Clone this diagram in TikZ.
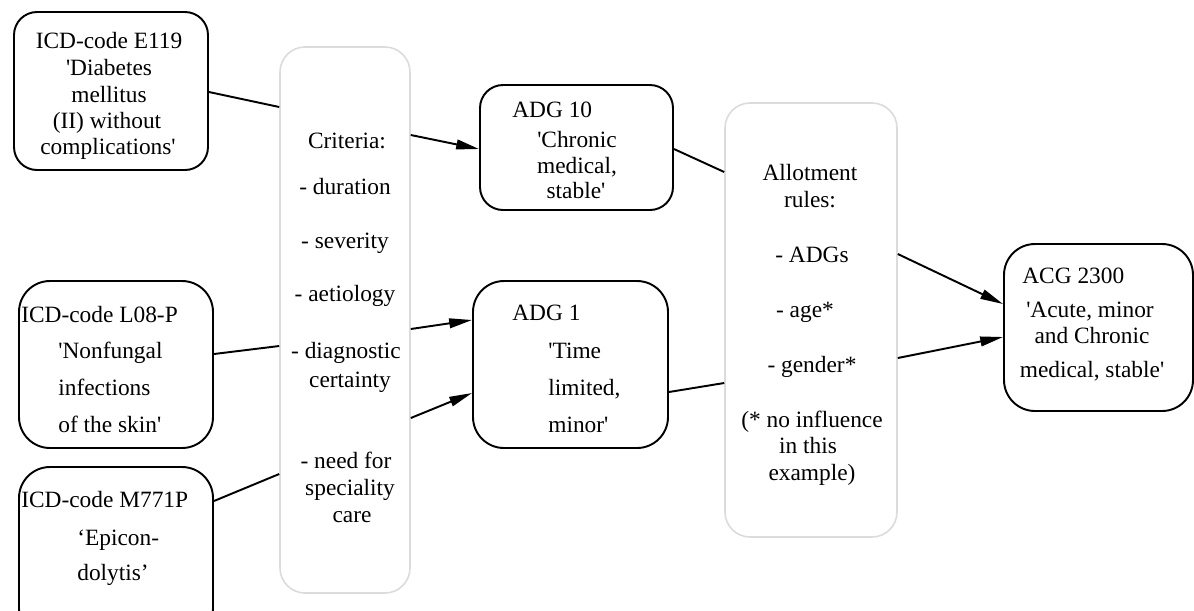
\documentclass[tikz,border=0pt]{standalone}
\usepackage{fontspec}
\setmainfont{Liberation Serif}
\newfontfamily\tnr[Ligatures=TeXOff]{Liberation Serif}
\usetikzlibrary{arrows.meta,fit}
\tikzset{
  box/.style={draw=black, line width=1.1pt, rounded corners=0.46cm, inner sep=0pt},
  bigbox/.style={draw=black, line width=1.1pt, rounded corners=0.62cm, inner sep=0pt},
  graybox/.style={draw=gray!28, line width=0.9pt, rounded corners=0.5cm, inner sep=0pt, fill=white},
  txt/.style={inner sep=0pt, anchor=base, font=\tnr\fontsize{13.3}{16}\selectfont},
  ltxt/.style={txt, anchor=base west},
  conn/.style={draw=black, line width=1.1pt},
  arr/.style={conn, -{Triangle[length=13pt,width=5.5pt]}}
}
\begin{document}
\begin{tikzpicture}[x=0.02cm, y=-0.02cm]
\useasboundingbox (0,0) rectangle (1194,610);
\clip (0,0) rectangle (1194,610);
% boxes
\node[box, fit={(14,12) (208,170)}] (e119) {};
\node[graybox, fit={(280,47) (410,593)}] (crit) {};
\node[bigbox, fit={(19,281) (213,448)}] (l08) {};
\node[bigbox, fit={(19,467) (213,640)}] (m771) {};
\node[box, fit={(480,85) (673,210)}] (adg10) {};
\node[bigbox, fit={(473,281) (668,448)}] (adg1) {};
\node[graybox, fit={(725,103) (897,537)}] (allot) {};
\node[bigbox, fit={(1004,244) (1193,411)}] (acg) {};
% texts E119
\node[txt] (e1) at (109,48) {ICD-code E119};
\node[txt] (e2) at (109,75) {'Diabetes};
\node[txt] (e3) at (109,102) {mellitus};
\node[txt] (e4) at (107,128) {(II) without};
\node[txt] (e5) at (108,154) {complications'};
% criteria
\node[txt] (c1) at (347,148) {Criteria:};
\node[txt] (c2) at (345,194) {- duration};
\node[txt] (c3) at (345,248) {- severity};
\node[txt] (c4) at (345,301) {- aetiology};
\node[txt] (c5) at (346,358) {- diagnostic};
\node[txt] (c6) at (350,387) {certainty};
\node[txt] (c7) at (346,468) {- need for};
\node[txt] (c8) at (350,495) {speciality};
\node[txt] (c9) at (352,522) {care};
% L08
\node[ltxt] (l1) at (21,322) {ICD-code L08-P};
\node[ltxt] (l2) at (58,358) {'Nonfungal};
\node[ltxt] (l3) at (58,395) {infections};
\node[ltxt] (l4) at (58,432) {of the skin'};
% M771
\node[ltxt] (m1) at (21,507) {ICD-code M771P};
\node[ltxt] (m2) at (77,545) {‘Epicon-};
\node[ltxt] (m3) at (77,580) {dolytis’};
% ADG10
\node[ltxt] (a1) at (512,117) {ADG 10};
\node[txt] (a2) at (577,147) {'Chronic};
\node[txt] (a3) at (577,173) {medical,};
\node[txt] (a4) at (576,198) {stable'};
% ADG1
\node[ltxt] (b1) at (512,320) {ADG 1};
\node[ltxt] (b2) at (548,358) {'Time};
\node[ltxt] (b3) at (548,395) {limited,};
\node[ltxt] (b4) at (548,432) {minor'};
% allotment
\node[txt] (r1) at (810,180) {Allotment};
\node[txt] (r2) at (810,207) {rules:};
\node[txt] (r3) at (812,262) {- ADGs};
\node[txt] (r4) at (805,317) {- age*};
\node[txt] (r5) at (812,372) {- gender*};
\node[txt] (r6) at (812,427) {(* no influence};
\node[txt] (r7) at (808,453) {in this};
\node[txt] (r8) at (812,480) {example)};
% ACG
\node[ltxt] (g1) at (1022,283) {ACG 2300};
\node[txt] (g2) at (1090,317) {'Acute, minor};
\node[txt] (g3) at (1092,343) {and Chronic};
\node[txt] (g4) at (1092,377) {medical, stable'};
% connectors
\draw[conn] (e119.east |- 0,92) -- (crit.west |- 0,107);
\draw[conn] (l08.east |- 0,354) -- (crit.west |- 0,346);
\draw[conn] (m771.east |- 0,501) -- (crit.west |- 0,474);
\draw[arr] (crit.east |- 0,135) -- (adg10.west |- 0,149);
\draw[arr] (crit.east |- 0,329) -- (adg1.west |- 0,320);
\draw[arr] (crit.east |- 0,418) -- (adg1.west |- 0,393);
\draw[conn] (adg10.east |- 0,149) -- (allot.west |- 0,172);
\draw[conn] (adg1.east |- 0,392) -- (allot.west |- 0,383);
\draw[arr] (allot.east |- 0,254) -- (acg.west |- 0,304);
\draw[arr] (allot.east |- 0,358) -- (acg.west |- 0,337);
\end{tikzpicture}
\end{document}
